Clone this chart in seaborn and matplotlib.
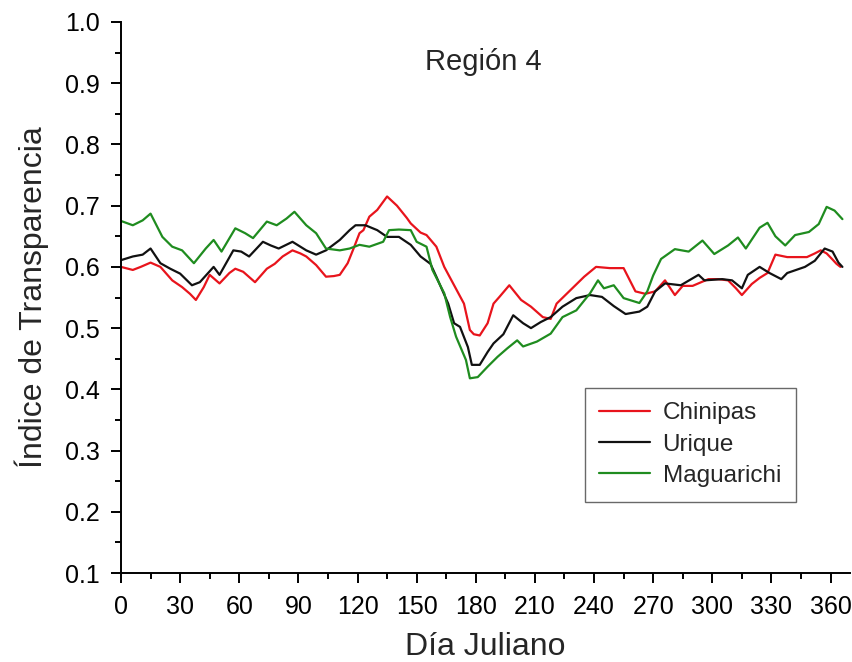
import numpy as np
import pandas as pd
import matplotlib
matplotlib.use("Agg")
import matplotlib.pyplot as plt
from matplotlib.ticker import MultipleLocator
import seaborn as sns

# Day-of-year samples and transparency index for each station
chinipas_day = [0, 6, 10, 15, 20, 26, 31, 35, 38, 42, 45, 50, 55, 58, 62, 68, 74, 78, 82, 87,
                91, 94, 99, 104, 108, 111, 115, 118, 121, 123, 126, 130, 135, 140, 145, 147, 152,
                155, 160, 164, 169, 174, 177, 179, 182, 186, 189, 192, 197, 203, 208, 214, 218,
                221, 228, 235, 241, 248, 255, 261, 266, 271, 276, 281, 285, 290, 298, 303, 308,
                312, 315, 320, 324, 328, 332, 338, 343, 348, 352, 355, 358, 361, 363, 365]
chinipas_val = [0.600, 0.595, 0.600, 0.607, 0.600, 0.578, 0.567, 0.556, 0.546, 0.567, 0.587,
                0.573, 0.590, 0.597, 0.592, 0.575, 0.597, 0.605, 0.617, 0.627, 0.622, 0.617,
                0.603, 0.584, 0.585, 0.587, 0.606, 0.630, 0.655, 0.660, 0.682, 0.693, 0.715,
                0.700, 0.680, 0.671, 0.656, 0.652, 0.633, 0.600, 0.570, 0.540, 0.497, 0.490,
                0.488, 0.508, 0.540, 0.551, 0.570, 0.546, 0.535, 0.518, 0.515, 0.540, 0.562,
                0.584, 0.600, 0.598, 0.598, 0.560, 0.556, 0.560, 0.578, 0.554, 0.569, 0.569,
                0.580, 0.580, 0.578, 0.565, 0.554, 0.572, 0.582, 0.590, 0.620, 0.616, 0.616,
                0.616, 0.622, 0.627, 0.622, 0.612, 0.605, 0.600]

urique_day = [0, 6, 11, 15, 20, 25, 30, 36, 40, 47, 50, 57, 61, 65, 72, 76, 80, 87, 94, 99,
              104, 111, 116, 119, 124, 130, 135, 141, 147, 152, 157, 160, 166, 169, 172, 176,
              178, 182, 186, 189, 194, 199, 204, 208, 213, 218, 224, 231, 238, 244, 250, 256,
              263, 267, 271, 276, 284, 293, 296, 305, 310, 315, 318, 324, 329, 335, 338, 347,
              352, 357, 361, 364, 366]
urique_val = [0.611, 0.617, 0.620, 0.630, 0.606, 0.597, 0.589, 0.570, 0.575, 0.600, 0.587,
              0.627, 0.625, 0.617, 0.641, 0.635, 0.630, 0.641, 0.627, 0.620, 0.627, 0.644,
              0.660, 0.668, 0.668, 0.660, 0.649, 0.649, 0.636, 0.617, 0.605, 0.584, 0.540,
              0.508, 0.502, 0.469, 0.440, 0.440, 0.461, 0.475, 0.490, 0.521, 0.508, 0.500,
              0.510, 0.518, 0.535, 0.549, 0.554, 0.551, 0.536, 0.523, 0.527, 0.535, 0.560,
              0.573, 0.570, 0.587, 0.578, 0.580, 0.578, 0.565, 0.587, 0.600, 0.590, 0.580,
              0.590, 0.600, 0.610, 0.630, 0.625, 0.607, 0.600]

maguarichi_day = [0, 6, 11, 15, 21, 26, 31, 37, 43, 47, 51, 58, 63, 67, 74, 79, 84, 88, 94,
                  99, 104, 111, 116, 121, 126, 133, 136, 141, 147, 150, 155, 158, 164, 167,
                  170, 175, 177, 181, 186, 191, 196, 201, 204, 211, 218, 224, 231, 238, 242,
                  245, 250, 255, 263, 267, 270, 274, 281, 288, 295, 301, 308, 313, 317, 324,
                  328, 332, 337, 342, 349, 354, 358, 362, 366]
maguarichi_val = [0.675, 0.668, 0.676, 0.687, 0.649, 0.633, 0.627, 0.606, 0.630, 0.644,
                  0.625, 0.663, 0.655, 0.647, 0.674, 0.668, 0.679, 0.690, 0.668, 0.655,
                  0.630, 0.627, 0.630, 0.636, 0.633, 0.641, 0.660, 0.661, 0.660, 0.641,
                  0.633, 0.595, 0.557, 0.518, 0.486, 0.448, 0.418, 0.420, 0.437, 0.453,
                  0.467, 0.480, 0.470, 0.478, 0.491, 0.518, 0.529, 0.557, 0.578, 0.565,
                  0.570, 0.549, 0.541, 0.560, 0.586, 0.613, 0.629, 0.625, 0.643, 0.621,
                  0.635, 0.648, 0.630, 0.664, 0.672, 0.650, 0.635, 0.652, 0.657, 0.670,
                  0.698, 0.692, 0.678]

series_names = ["Chinipas", "Urique", "Maguarichi"]
series_colors = ["#e8141c", "#111111", "#1f8c1f"]

x_ticks = list(range(0, 361, 30))
y_ticks = [0.1, 0.2, 0.3, 0.4, 0.5, 0.6, 0.7, 0.8, 0.9, 1.0]

df = pd.concat([
    pd.DataFrame({"day": chinipas_day, "value": chinipas_val, "station": "Chinipas"}),
    pd.DataFrame({"day": urique_day, "value": urique_val, "station": "Urique"}),
    pd.DataFrame({"day": maguarichi_day, "value": maguarichi_val, "station": "Maguarichi"}),
], ignore_index=True)

sns.set_theme(style="ticks")
plt.rcParams["font.family"] = ["Liberation Sans", "DejaVu Sans"]

fig = plt.figure(figsize=(8.52, 6.62), dpi=100)
ax = fig.add_axes([0.142, 0.1344, 0.856, 0.8324])

sns.lineplot(data=df, x="day", y="value", hue="station", hue_order=series_names,
             palette=dict(zip(series_names, series_colors)), estimator=None,
             sort=True, linewidth=1.6, ax=ax)

ax.set_xlim(0, 370)
ax.set_ylim(0.1, 1.0)
ax.set_xticks(x_ticks)
ax.set_yticks(y_ticks)
ax.set_yticklabels([f"{v:.1f}" for v in y_ticks])
ax.xaxis.set_minor_locator(MultipleLocator(15))
ax.yaxis.set_minor_locator(MultipleLocator(0.05))

for side in ("top", "right"):
    ax.spines[side].set_visible(False)
for side in ("left", "bottom"):
    ax.spines[side].set_linewidth(1.4)
    ax.spines[side].set_color("black")

ax.tick_params(axis="both", which="major", direction="out", length=7, width=1.4,
               labelsize=18, colors="black")
ax.tick_params(axis="x", which="major", pad=9)
ax.tick_params(axis="y", which="major", pad=8)
ax.tick_params(axis="both", which="minor", direction="out", length=4, width=1.4,
               colors="black")

ax.set_xlabel("Día Juliano", fontsize=23, labelpad=9)
ax.set_ylabel("Índice de Transparencia", fontsize=23, labelpad=12)

ax.text(184, 0.935, "Región 4", fontsize=21, ha="center", va="center")

leg = ax.legend(loc="upper left", bbox_to_anchor=(0.636, 0.336), borderaxespad=0,
                fontsize=17.5, frameon=True, fancybox=False, handlelength=2.1,
                borderpad=0.6, labelspacing=0.38, handletextpad=0.5)
leg.get_frame().set_edgecolor("#444444")
leg.get_frame().set_linewidth(1.0)
for line in leg.get_lines():
    line.set_linewidth(1.6)

fig.savefig("out.png", dpi=100)
